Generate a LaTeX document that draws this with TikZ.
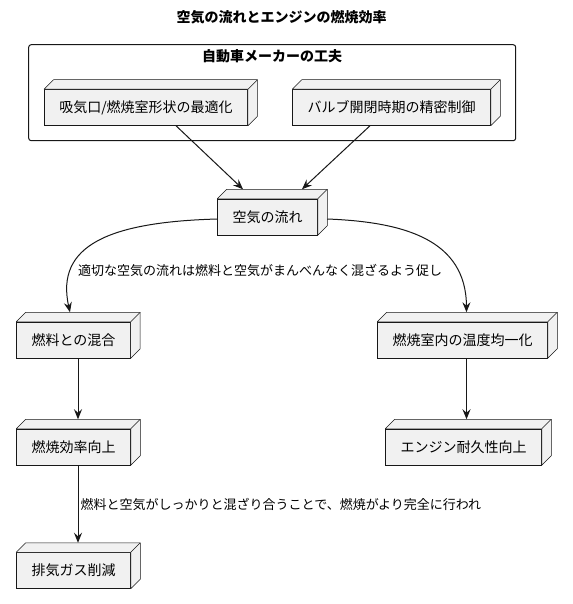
\documentclass[tikz,border=0pt]{standalone}
\usepackage{fontspec}
\setmainfont{Noto Sans CJK JP}
\usetikzlibrary{calc,arrows.meta}
\definecolor{nfill}{HTML}{F1F1F1}
\definecolor{nline}{HTML}{181818}
\tikzset{
  nodebox/.style={draw=nline, fill=nfill, line width=0.5pt, minimum height=36pt,
    inner xsep=15pt, inner ysep=0pt, font=\fontsize{14}{16}\selectfont},
  depthface/.style={draw=nline, fill=nfill, line width=0.5pt, line join=round},
  flow/.style={draw=nline, line width=1pt, -{Stealth[length=10pt,width=8pt,inset=3.5pt]}},
  edgelabel/.style={font=\fontsize{13}{15}\selectfont, anchor=west, inner sep=0pt},
  clusterbox/.style={draw=nline, line width=1pt, rounded corners=2.5pt, inner sep=0pt},
}
\newcommand\nodedepth[1]{%
  \filldraw[depthface] (#1.north west) -- ++(9.5,-9.5) -- ($(#1.north east)+(9.5,-9.5)$)
    -- ($(#1.south east)+(9.5,-9.5)$) -- (#1.south east) -- (#1.north east) -- cycle;
  \draw[depthface] (#1.north east) -- ++(9.5,-9.5);}
\begin{document}
\begin{tikzpicture}[x=1pt,y=-1pt]
\useasboundingbox[fill=white] (0,0) rectangle (572,604);
\node[font=\bfseries\fontsize{14}{16}\selectfont] (title) at (281.5,17) {空気の流れとエンジンの燃焼効率};
\node[clusterbox, minimum width=487pt, minimum height=96pt] (cluster) at (272.2,92.7) {};
\node[font=\bfseries\fontsize{14}{16}\selectfont] (clusterlabel) at (272,56) {自動車メーカーの工夫};

\node[nodebox] (n1) at (146,107.5) {吸気口/燃焼室形状の最適化};
\node[nodebox] (n2) at (391.5,107.5) {バルブ開閉時期の精密制御};
\node[nodebox] (air) at (267.5,217) {空気の流れ};
\node[nodebox] (mix) at (73.5,340) {燃料との混合};
\node[nodebox] (temp) at (462.5,340) {燃焼室内の温度均一化};
\node[nodebox] (eff) at (73.5,447) {燃焼効率向上};
\node[nodebox] (dur) at (463.5,447) {エンジン耐久性向上};
\node[nodebox] (exh) at (73.5,570.5) {排気ガス削減};
\foreach \n in {n1,n2,air,mix,temp,eff,dur,exh} {\nodedepth{\n}}

\draw[flow] ($(n1.south)+(30,0)$) -- ($(air.north)+(-24.5,-9.5)$);
\draw[flow] ($(n2.south)+(-21.5,0)$) -- ($(air.north)+(34.5,-9.5)$);
\draw[flow] ($(air.west)+(0,2)$) .. controls (110,222) and (55,245) .. ($(mix.north)+(-3.5,-9.5)$);
\node[edgelabel] (l1) at (78,270) {適切な空気の流れは燃料と空気がまんべんなく混ざるよう促し};
\draw[flow] ($(air.east)+(9.5,2)$) .. controls (405,222) and (466,240) .. ($(temp.north)+(4,-9.5)$);
\draw[flow] ($(mix.south)+(4.5,0)$) -- ($(eff.north)+(4.5,-9.5)$);
\draw[flow] ($(temp.south)+(4,0)$) -- ($(dur.north)+(3,-9.5)$);
\draw[flow] ($(eff.south)+(4.5,0)$) -- ($(exh.north)+(4.5,-9.5)$);
\node[edgelabel] (l2) at (80.5,504) {燃料と空気がしっかりと混ざり合うことで、燃焼がより完全に行われ};
\end{tikzpicture}
\end{document}
